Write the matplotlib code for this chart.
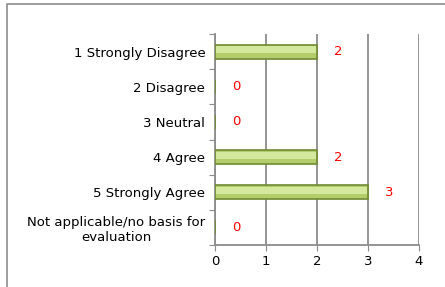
import matplotlib.pyplot as plt
import matplotlib.patches as mpatches
import numpy as np

categories = ['1 Strongly Disagree', '2 Disagree', '3 Neutral', '4 Agree',
              '5 Strongly Agree', 'Not applicable/no basis for\nevaluation']
counts = [2, 0, 0, 2, 3, 0]

fig = plt.figure(figsize=(4.45, 2.87), dpi=100)
ax = fig.add_axes([215/445, 1 - 245/287, (419 - 215)/445, (245 - 34)/287])

# outer chart border
fig.patches.append(mpatches.Rectangle((7/445, -0.1), 1.2, 1.1 - 4/287,
                                      transform=fig.transFigure, fill=False,
                                      edgecolor='#8c8c8c', linewidth=1.2))

y = np.arange(len(categories))
ax.barh(y, counts, height=0.4, color='#b2cd6a', edgecolor='#6f8a33', linewidth=1.2, zorder=3)
# lighter upper part for a bevel look
ax.barh(y - 0.05, [max(c - 0.05, 0) for c in counts], height=0.2, left=0.025,
        color='#d5e99e', linewidth=0, zorder=4)

for yi, c in zip(y, counts):
    ax.text(c + 0.42, yi, str(c), color='red', ha='center', va='center', fontsize=9.5)

ax.set_xlim(0, 4)
ax.set_ylim(len(categories) - 0.5, -0.5)
ax.set_xticks([0, 1, 2, 3, 4])
ax.tick_params(axis='x', labelsize=9.5, length=4, color='#8c8c8c', pad=3)

ax.set_yticks(np.arange(-0.5, len(categories)), labels=[''] * (len(categories) + 1))
ax.set_yticks(y, minor=True)
ax.set_yticklabels(categories, minor=True, fontsize=9.5, multialignment='center')
ax.tick_params(axis='y', which='major', length=4, color='#8c8c8c')
ax.tick_params(axis='y', which='minor', length=0, pad=7)

ax.grid(axis='x', color='#8c8c8c', linewidth=1.3, zorder=0)
ax.set_axisbelow(True)
for s in ['top', 'right']:
    ax.spines[s].set_visible(False)
for s in ['left', 'bottom']:
    ax.spines[s].set_color('#8c8c8c')
    ax.spines[s].set_linewidth(1.3)

fig.savefig('out.png', dpi=100)
